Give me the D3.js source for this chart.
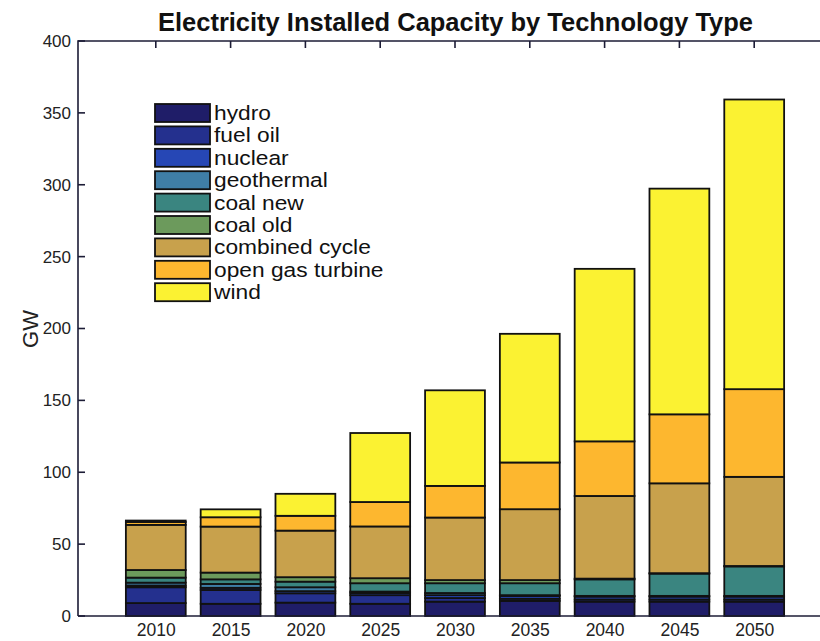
<!DOCTYPE html>
<html><head><meta charset="utf-8">
<script src="https://cdn.jsdelivr.net/npm/d3@7"></script>
<style>body{margin:0;background:#fff}svg{display:block;font-family:"Liberation Sans",Arial,Helvetica,sans-serif}</style>
</head><body><svg id="c" width="820" height="641"></svg>
<script>
const years = ["2010","2015","2020","2025","2030","2035","2040","2045","2050"];
const seriesNames = ["hydro","fuel oil","nuclear","geothermal","coal new","coal old","combined cycle","open gas turbine","wind"];
const hydro      = [9, 8.5, 9.3, 8.5, 10, 10.5, 10, 10, 10];
const fuelOil    = [11, 9.6, 6.5, 6, 2.5, 1.5, 1.5, 1.5, 1.5];
const nuclear    = [1.2, 1.5, 1.5, 1.5, 2, 2, 2, 2, 2];
const geothermal = [2, 2.7, 2.7, 1, 1.5, 0.5, 0.5, 0.5, 0.5];
const coalNew    = [3.5, 3.2, 3.9, 5.8, 6.8, 8.3, 11.5, 15.5, 20.5];
const coalOld    = [5.3, 4.7, 3.1, 3.5, 2.2, 2.2, 0.5, 0.3, 0.3];
const combinedCycle = [31.4, 32, 32.4, 36, 43.5, 49.3, 57.5, 62.5, 62];
const openGasTurbine = [2, 6.5, 10.3, 17, 22, 32.5, 38, 48, 61];
const wind       = [1, 5.5, 15.3, 48, 66.5, 89.5, 120, 157, 201.5];
const yTicks = [0, 50, 100, 150, 200, 250, 300, 350, 400];
const colors = ["#1f1d68","#24308e","#2647b5","#3f7ea6","#3a8580","#6c9a5c","#c8a14c","#fdb72f","#fbf232"];

const values = [hydro, fuelOil, nuclear, geothermal, coalNew, coalOld, combinedCycle, openGasTurbine, wind];
const table = years.map((y, i) => {
  const o = {year: +y};
  seriesNames.forEach((n, k) => o[n] = values[k][i]);
  return o;
});
const stacked = d3.stack().keys(seriesNames)(table);

const svg = d3.select("#c");
const L = 78, T = 41, B = 616, R = 828;
const x = d3.scaleLinear().domain([2005, 2055]).range([81, 829]);
const y = d3.scaleLinear().domain([0, 400]).range([B, T]);
const bw = 0.8 * (x(2010) - x(2005));

svg.append("g").selectAll("g").data(stacked).join("g")
  .attr("fill", (d, i) => colors[i])
  .selectAll("rect").data(d => d).join("rect")
  .attr("x", d => x(d.data.year) - bw / 2)
  .attr("width", bw)
  .attr("y", d => y(d[1]))
  .attr("height", d => y(d[0]) - y(d[1]))
  .attr("stroke", "#111")
  .attr("stroke-width", 1.8);

// axes (MATLAB box style with inward ticks)
const ax = svg.append("g").attr("stroke", "#1c1c36").attr("stroke-width", 1.6).attr("fill", "none");
ax.append("path").attr("d", `M${L},${B}V${T}H${R + 2}`);
ax.append("path").attr("d", `M${L},${B}H${R + 2}`);
yTicks.forEach(t => {
  ax.append("line").attr("x1", L).attr("x2", L + 7).attr("y1", y(t)).attr("y2", y(t));
});
years.forEach(t => {
  ax.append("line").attr("x1", x(+t)).attr("x2", x(+t)).attr("y1", T).attr("y2", T + 7);
});

const yAxis = d3.axisLeft(y).tickValues(yTicks).tickSize(0).tickPadding(7);
svg.append("g").attr("transform", `translate(${L},0)`).call(yAxis)
  .call(g => g.select(".domain").remove())
  .selectAll("text").attr("font-size", 17).attr("fill", "#222")
  .attr("font-family", "Liberation Sans, Arial, sans-serif");

const xAxis = d3.axisBottom(x).tickValues(years.map(Number)).tickFormat(d3.format("d")).tickSize(0).tickPadding(8);
svg.append("g").attr("transform", `translate(0,${B})`).call(xAxis)
  .call(g => g.select(".domain").remove())
  .selectAll("text").attr("font-size", 17.5).attr("fill", "#222")
  .attr("font-family", "Liberation Sans, Arial, sans-serif");

svg.append("text").attr("x", 158).attr("y", 31)
  .attr("font-size", 25).attr("font-weight", "bold").attr("fill", "#111")
  .attr("textLength", 595).attr("lengthAdjust", "spacingAndGlyphs")
  .text("Electricity Installed Capacity by Technology Type");

svg.append("text").attr("transform", "translate(38,329) rotate(-90)").attr("text-anchor", "middle")
  .attr("font-size", 22).attr("fill", "#222").text("GW");

// legend
const lg = svg.append("g");
seriesNames.forEach((n, i) => {
  const cy = 113 + i * 22.4;
  lg.append("rect").attr("x", 155).attr("y", cy - 9).attr("width", 55).attr("height", 18)
    .attr("fill", colors[i]).attr("stroke", "#111").attr("stroke-width", 1.8);
  const t = lg.append("text").attr("x", 214).attr("y", cy + 7).attr("font-size", 19.3).attr("fill", "#111").text(n);
  const w = t.node().getComputedTextLength();
  t.attr("textLength", w * 1.18).attr("lengthAdjust", "spacingAndGlyphs");
});
</script></body></html>
